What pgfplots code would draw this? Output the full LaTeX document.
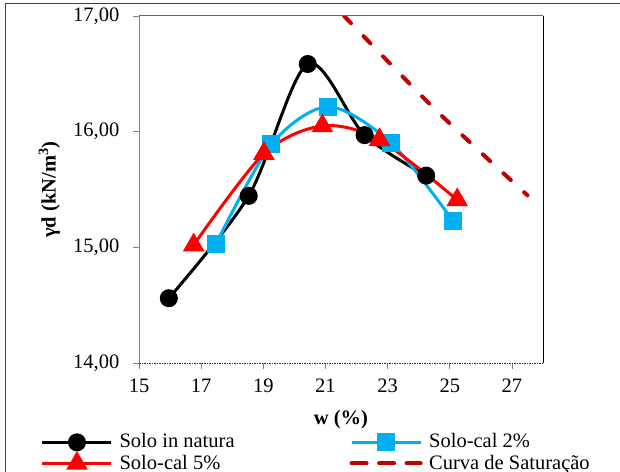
\documentclass[border=0pt]{standalone}
\usepackage{fontspec}
\setmainfont{Liberation Serif}
\usepackage{pgfplots}
\pgfplotsset{compat=1.18}
\definecolor{cblue}{HTML}{00B0F0}
\definecolor{cred}{HTML}{FF0000}
\definecolor{cdred}{HTML}{C00000}
\begin{document}
\fontsize{20.5bp}{24bp}\selectfont
\begin{tikzpicture}
\useasboundingbox (0,0) rectangle (620bp,472bp);
\draw[black!75, line width=1.3bp] (5.5bp,0) -- (5.5bp,468.7bp) -- (620bp,468.7bp);
\begin{axis}[
  name=ax,
  at={(139bp,109bp)}, anchor=south west,
  scale only axis, width=404bp, height=347bp,
  xmin=15, xmax=28, ymin=14, ymax=17,
  axis line style={draw=none},
  xtick={15,17,19,21,23,25,27}, xticklabels={15,17,19,21,23,25,27},
  ytick={14,15,16,17}, yticklabels={14{,}00,15{,}00,16{,}00,17{,}00},
  tick align=outside, xtick pos=bottom, ytick pos=left,
  minor tick num=0,
  major tick length=6bp,
  tick style={gray, line width=0.6bp},
  yticklabel style={anchor=east, inner sep=0pt, xshift=-13.5bp},
  xticklabel style={anchor=north, inner sep=0pt, yshift=-10bp},
  xlabel={\textbf{w (\%)}},
  ylabel={\textbf{γd (kN/m\textsuperscript{3})}},
  xlabel style={at={(axis description cs:0.5,-0.164)}, anchor=center},
  ylabel style={at={(axis description cs:-0.222,0.5)}, anchor=center},
  legend columns=2,
  legend cell align=left,
  legend image code/.code={%
    \draw[mark repeat=2,mark phase=2,#1] plot coordinates {(0bp,0bp) (34.5bp,0bp) (69bp,0bp)};%
  },
  legend style={at={(axis description cs:-0.2426,-0.2037)}, anchor=north west,
    draw=none, fill=none, inner sep=0pt, outer sep=0pt, row sep=3bp,
    font=\fontsize{20.5bp}{24bp}\selectfont,
    nodes={inner sep=0pt},
    /tikz/every odd column/.append style={column sep=6.6bp},
    /tikz/every even column/.append style={column sep=115bp}},
]
\addplot[black, line width=3bp, smooth, mark=*, mark size=7.5bp, mark options={solid}]
  coordinates {(15.96,14.56) (18.53,15.445) (20.43,16.585) (22.26,15.97) (24.24,15.62)};
\addlegendentry{Solo in natura}
\addplot[cblue, line width=3bp, smooth, mark=square*, mark size=7.5bp, mark options={solid}]
  coordinates {(17.47,15.025) (19.26,15.89) (21.09,16.215) (23.12,15.90) (25.10,15.23)};
\addlegendentry{Solo-cal 2\%}
\addplot[cred, line width=3bp, smooth, mark=triangle*, mark size=9.5bp, mark options={solid}]
  coordinates {(16.76,15.02) (19.02,15.81) (20.90,16.05) (22.74,15.93) (25.24,15.41)};
\addlegendentry{Solo-cal 5\%}
\addplot[cdred, line width=4bp, smooth, line cap=round, dash pattern=on 10bp off 18bp,
  legend image post style={dash pattern=on 15bp off 12.5bp}]
  coordinates {(21.6,17.0) (23,16.61) (24.5,16.20) (26,15.82) (27.5,15.45)};
\addlegendentry{Curva de Saturação}
\end{axis}
\draw[gray, line width=1bp] (ax.south west) -- (ax.north west);
\draw[black!85, line width=0.7bp, dash pattern=on 1.5bp off 1bp] (ax.south west) -- (ax.south east);
\draw[black!60, line width=1bp] (ax.north west) -- (ax.north east);
\draw[black, line width=1bp] (ax.south east) -- (ax.north east);
\end{tikzpicture}
\end{document}
